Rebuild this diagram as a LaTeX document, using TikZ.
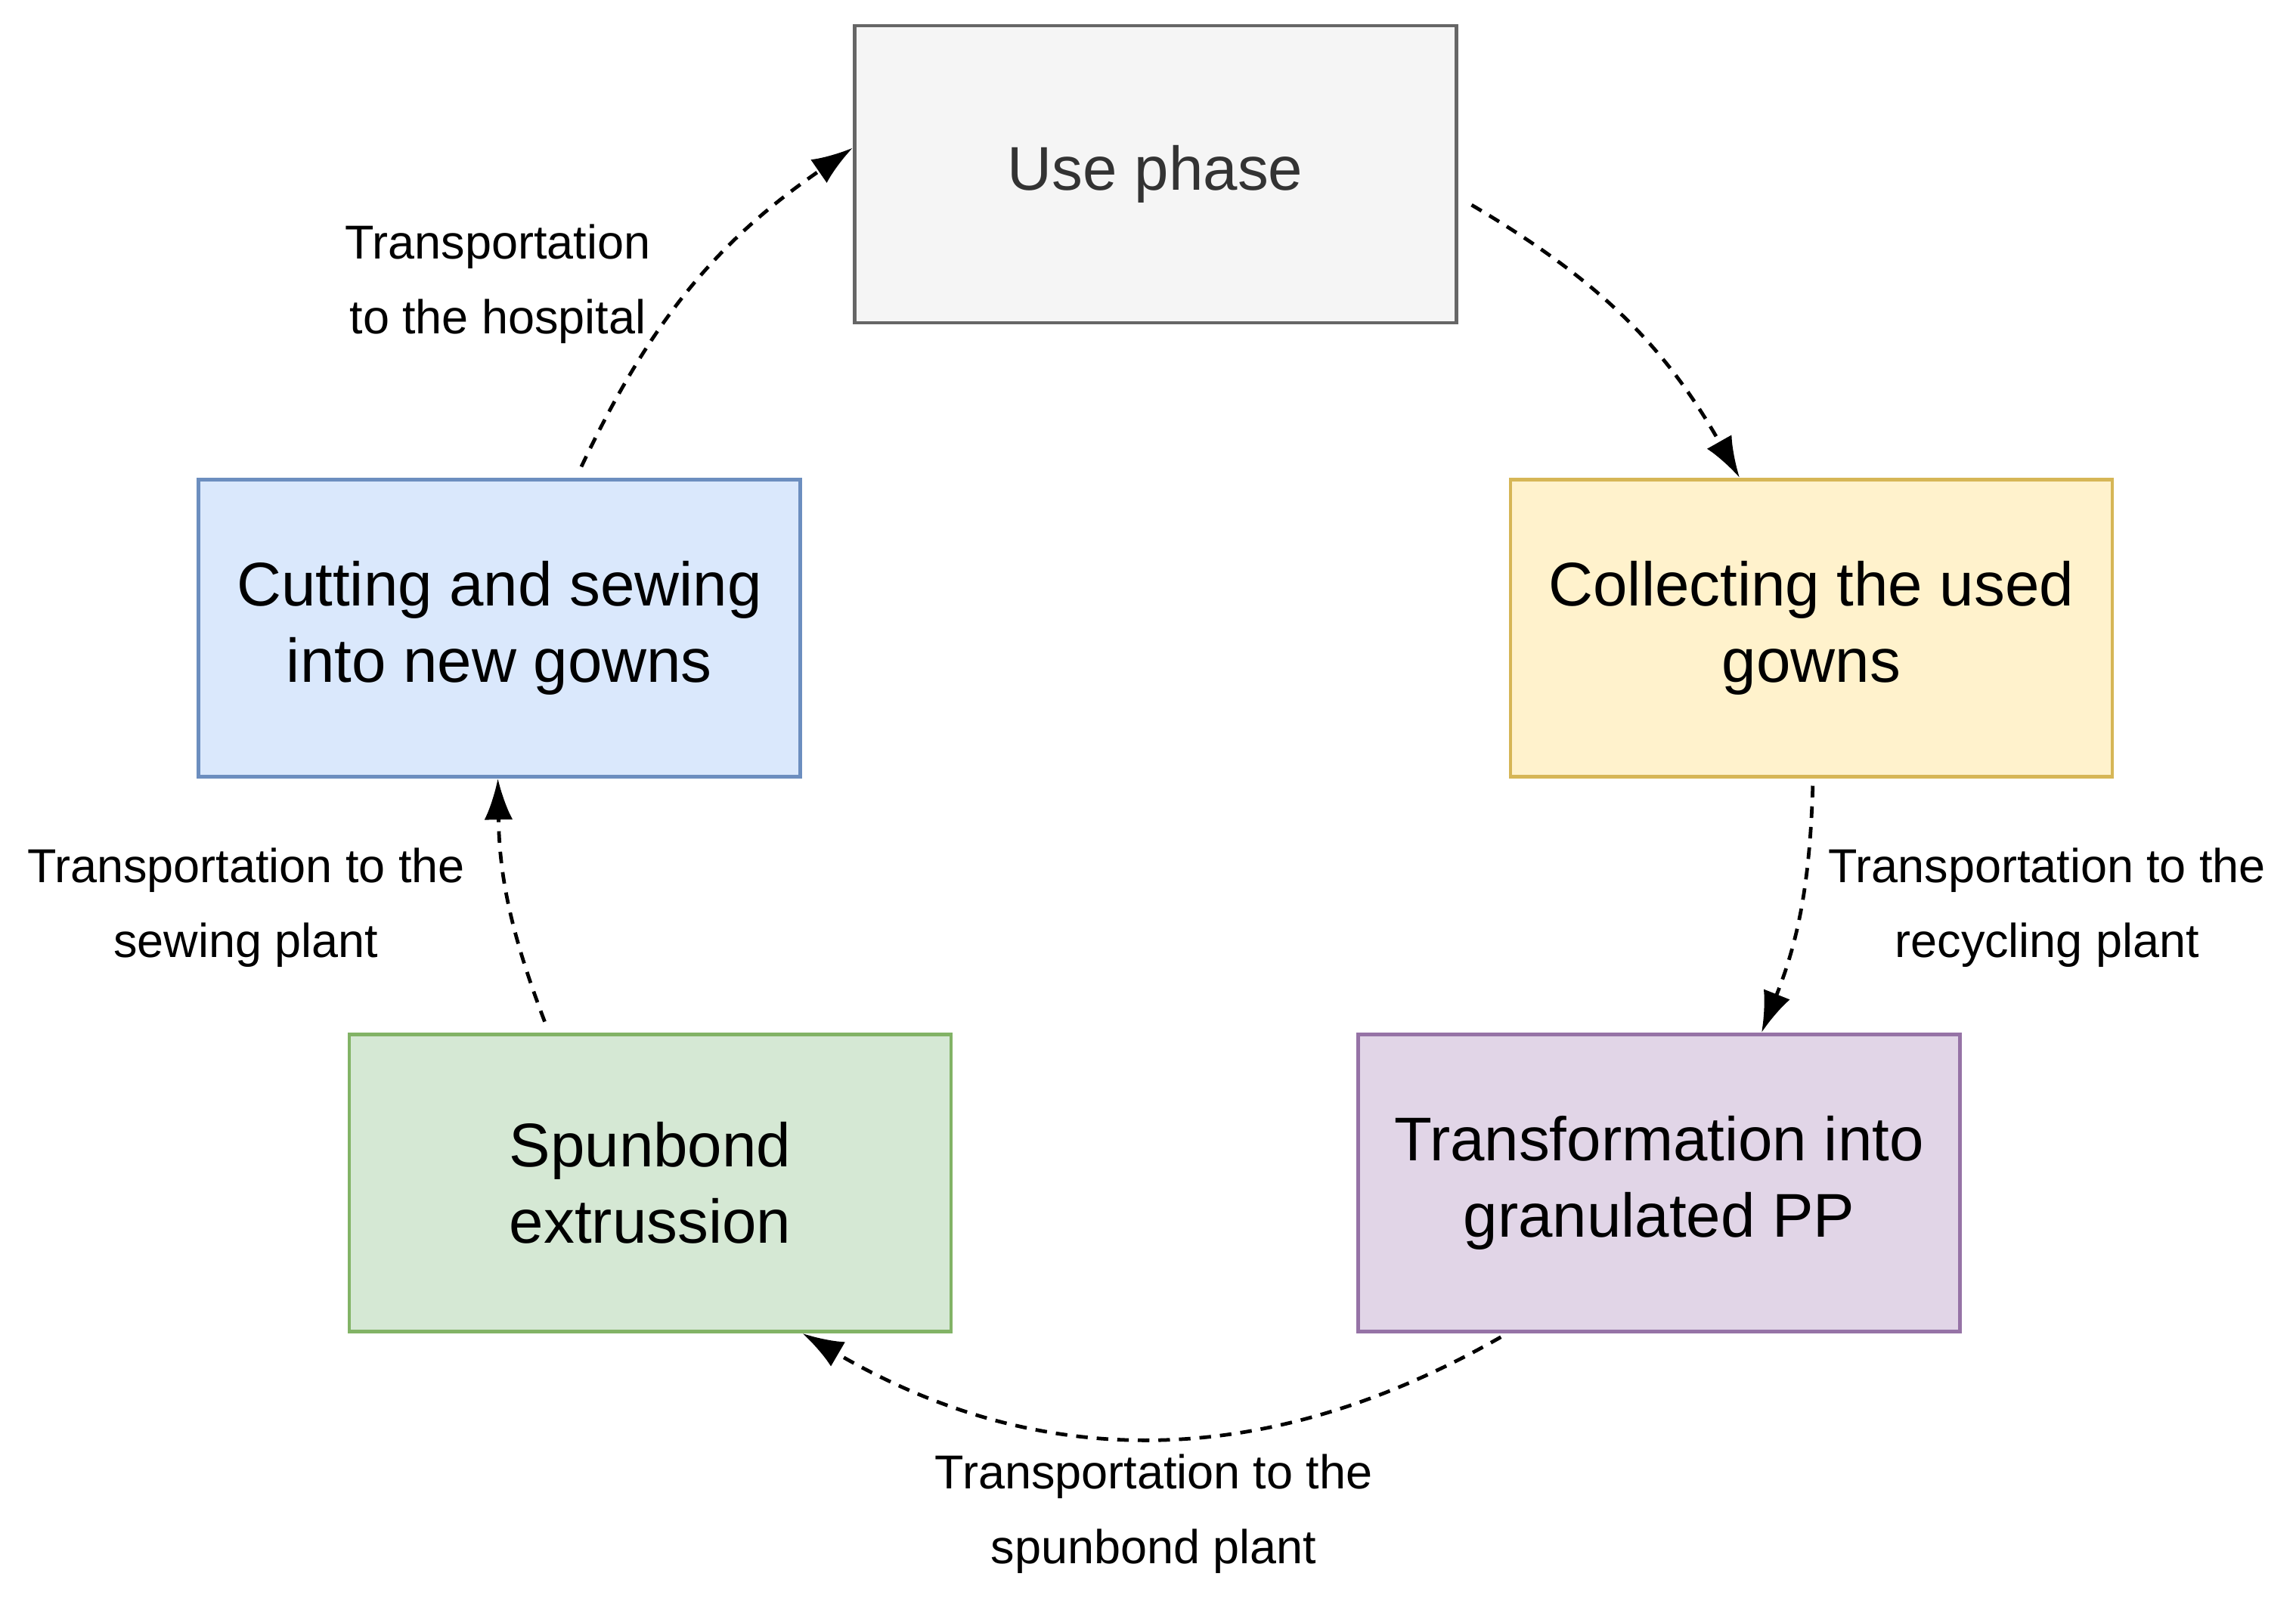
\documentclass[tikz,border=0pt]{standalone}
\usepackage{fontspec}
\setmainfont{Liberation Sans}
\usetikzlibrary{arrows.meta}
\definecolor{gf}{HTML}{F5F5F5}\definecolor{gd}{HTML}{666666}
\definecolor{bf}{HTML}{DAE8FC}\definecolor{bd}{HTML}{6C8EBF}
\definecolor{yf}{HTML}{FFF2CC}\definecolor{yd}{HTML}{D6B656}
\definecolor{nf}{HTML}{D5E8D4}\definecolor{nd}{HTML}{82B366}
\definecolor{pf}{HTML}{E1D5E7}\definecolor{pd}{HTML}{9673A6}
\begin{document}
\begin{tikzpicture}[x=0.02cm,y=-0.02cm,
 box/.style={draw,line width=1.4pt,minimum width=8.22cm,minimum height=4.06cm,align=center,font=\fontsize{24}{29.5}\selectfont},
 lab/.style={align=center,font=\fontsize{18.5}{29}\selectfont},
 arr/.style={-{Latex[length=16pt,width=11pt]},line width=1.4pt,dash pattern=on 4.5pt off 3.5pt}]
\useasboundingbox (0,0) rectangle (1568,1091);
\node[box,fill=gf,draw=gd,text=black!80] (use) at (789,119) {Use phase};
\node[box,fill=bf,draw=bd] (cut) at (341,429) {Cutting and sewing\\into new gowns};
\node[box,fill=yf,draw=yd] (col) at (1237,429) {Collecting the used\\gowns};
\node[box,fill=nf,draw=nd] (spun) at (444,808) {Spunbond\\extrussion};
\node[box,fill=pf,draw=pd] (tra) at (1133,808) {Transformation into\\granulated PP};
\coordinate (a1) at (1005,140);
\draw[arr] (a1) to[bend left=15] ([xshift=-49*0.02cm]col.north);
\draw[arr] ([xshift=1*0.02cm,yshift=-0.1cm]col.south) to[bend left=10] ([xshift=70*0.02cm]tra.north);
\draw[arr] ([xshift=-108*0.02cm,yshift=-0.05cm]tra.south) to[bend left=30] ([xshift=104*0.02cm]spun.south);
\draw[arr] ([xshift=-72*0.02cm,yshift=0.15cm]spun.north) to[bend left=10] ([xshift=-1*0.02cm]cut.south);
\draw[arr] ([xshift=56*0.02cm,yshift=0.15cm]cut.north) to[bend left=15] ([yshift=18*0.02cm]use.west);
\node[lab] (l1) at (340,194) {Transportation\\to the hospital};
\node[lab] (l2) at (168,620) {Transportation to the\\sewing plant};
\node[lab] (l3) at (1398,620) {Transportation to the\\recycling plant};
\node[lab] (l4) at (788,1034) {Transportation to the\\spunbond plant};
\end{tikzpicture}
\end{document}
